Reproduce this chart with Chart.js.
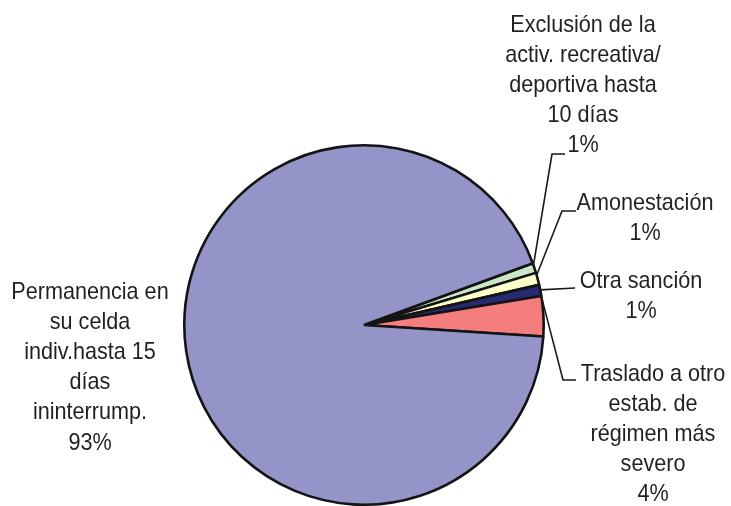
<!DOCTYPE html>
<html>
<head>
<meta charset="utf-8">
<script src="https://cdn.jsdelivr.net/npm/chart.js@4"></script>
<style>
  body { margin: 0; background: #fff; }
  #wrap { width: 731px; height: 506px; position: relative; }
</style>
</head>
<body>
<div id="wrap"><canvas id="chartSanciones"></canvas></div>
<script>
// categorias (cada una partida en renglones)
const categorias = [
  ["Exclusión de la", "activ. recreativa/", "deportiva hasta", "10 días"],
  ["Amonestación"],
  ["Otra sanción"],
  ["Traslado a otro", "estab. de", "régimen más", "severo"],
  ["Permanencia en", "su celda", "indiv.hasta 15", "días", "ininterrump."]
];
// porcentaje de sanciones
const valores = [0.9, 1.1, 1.0, 3.6, 93.4];
const colores = ["#cce6c8", "#ffffcc", "#262a72", "#f47e7e", "#9494c8"];

// ubicacion de los rotulos (x centro, y primer renglon) y lineas guia
const rotulos = [
  { x: 583, y: 25, ancla: 0.2, codo: [552, 154], fin: [565, 154] },
  { x: 645, y: 203, ancla: 0.2, codo: [562, 211], fin: [576, 211] },
  { x: 641, y: 281, ancla: 0.45, codo: null, fin: [575, 288] },
  { x: 653, y: 374, ancla: 0.03, codo: [563, 380], fin: [576, 380] },
  { x: 90, y: 292, ancla: null }
];

const canvas = document.getElementById("chartSanciones");
const context = canvas.getContext("2d");

const rotulosPlugin = {
  id: "rotulos",
  afterDatasetsDraw(chart) {
    const ctx = chart.ctx;
    const meta = chart.getDatasetMeta(0);
    const total = valores.reduce((a, b) => a + b, 0);

    meta.data.forEach((arc, i) => {
      const r = rotulos[i];
      const pct = Math.round(valores[i] / total * 100) + "%";
      const lineas = categorias[i].concat(pct);

      if (r.ancla !== null) {
        const ang = arc.startAngle + (arc.endAngle - arc.startAngle) * r.ancla;
        const x0 = arc.x + Math.cos(ang) * arc.outerRadius;
        const y0 = arc.y + Math.sin(ang) * arc.outerRadius;
        ctx.save();
        ctx.strokeStyle = "#1a1a1a";
        ctx.lineWidth = 1.6;
        ctx.beginPath();
        ctx.moveTo(x0, y0);
        if (r.codo) ctx.lineTo(r.codo[0], r.codo[1]);
        ctx.lineTo(r.fin[0], r.fin[1]);
        ctx.stroke();
        ctx.restore();
      }

      lineas.forEach((t, j) => {
        ctx.save();
        ctx.translate(r.x, r.y + j * 30.2);
        ctx.scale(0.9, 1);
        ctx.font = "24px 'Liberation Sans', Arial, sans-serif";
        ctx.fillStyle = "#231f20";
        ctx.textAlign = "center";
        ctx.textBaseline = "middle";
        ctx.fillText(t, 0, 0);
        ctx.restore();
      });
    });
  }
};

const chartSanciones = new Chart(context, {
  type: "pie",
  data: {
    labels: categorias.map(c => c.join(" ")),
    datasets: [
      {
        data: valores,
        backgroundColor: colores,
        borderColor: "#141414",
        borderWidth: 2.6,
      },
    ],
  },
  options: {
    responsive: true,
    maintainAspectRatio: false,
    animation: false,
    rotation: 69.9,
    layout: {
      padding: { left: 183, right: 186, top: 144, bottom: 0 },
    },
    plugins: {
      legend: { display: false },
      tooltip: { enabled: false },
    },
  },
  plugins: [rotulosPlugin],
});
</script>
</body>
</html>
